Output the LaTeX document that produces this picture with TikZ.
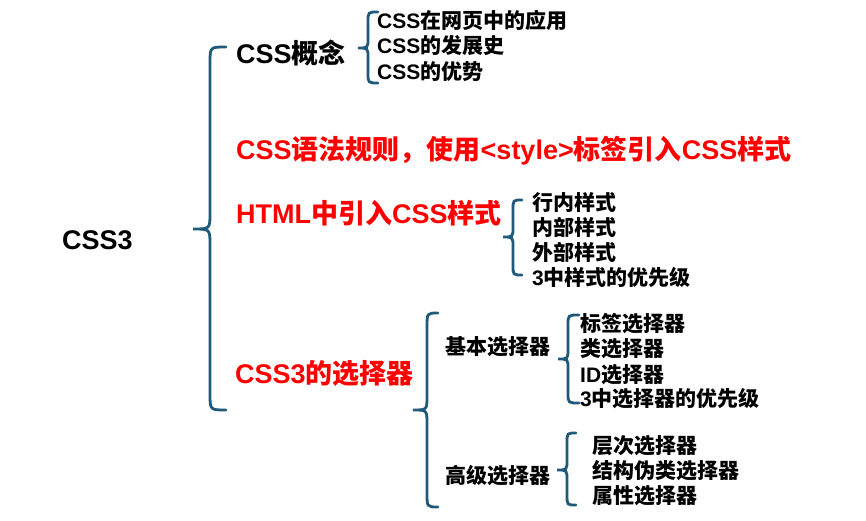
\documentclass[tikz,border=0pt]{standalone}
\usepackage{fontspec}
\setmainfont{Liberation Sans}
\newfontfamily\cjk{Noto Sans CJK SC}
\newcommand\zh[1]{{\cjk #1}}
\definecolor{bracecol}{RGB}{31,90,122}
\definecolor{hotred}{RGB}{255,0,0}
\newcommand\bracepath[7]{%
  \draw[brc] (#1,#4) .. controls (#2,#4) .. (#2,{#4+#7}) -- (#2,{#5-#7})
    .. controls (#2,#5) .. (#3,#5) .. controls (#2,#5) .. (#2,{#5+#7})
    -- (#2,{#6-#7}) .. controls (#2,#6) .. (#1,#6);}
\begin{document}
\begin{tikzpicture}[x=1pt,y=-1pt,
  lbl/.style={anchor=west,inner sep=0pt,text height=23.8pt,text depth=3.2pt,
    font=\bfseries\fontsize{27}{30}\selectfont},
  hot/.style={lbl,text=hotred},
  item/.style={anchor=west,inner sep=0pt,text height=18.5pt,text depth=2.5pt,
    font=\bfseries\fontsize{21}{24}\selectfont},
  brc/.style={draw=bracecol,line width=2.8pt,line cap=round}]
\useasboundingbox[fill=white] (0,0) rectangle (866,521);

% braces
\bracepath{226}{210}{193}{47}{229}{410}{16}
\bracepath{378}{368}{358}{12}{48}{83}{10}
\bracepath{522}{513}{503}{200}{237}{275}{10}
\bracepath{438}{427}{413}{313}{410}{507}{14}
\bracepath{579}{568}{558}{315}{359}{403}{10}
\bracepath{576}{567}{557}{433}{470}{505}{10}

% root
\node[lbl] (root) at (62,239) {CSS3};

% concept
\node[lbl] (concept) at (236,53) {CSS\zh{概念}};
\node[item] (c1) at (377,21) {CSS\zh{在网页中的应用}};
\node[item] (c2) at (377,46) {CSS\zh{的发展史}};
\node[item] (c3) at (377,72) {CSS\zh{的优势}};

% syntax
\node[hot] (syntax) at (236,149) {CSS\zh{语法规则，使用}<style>\zh{标签引入}CSS\zh{样式}};

% html
\node[hot] (html) at (236,213) {HTML\zh{中引入}CSS\zh{样式}};
\node[item] (h1) at (532,203) {\zh{行内样式}};
\node[item] (h2) at (532,228) {\zh{内部样式}};
\node[item] (h3) at (532,252) {\zh{外部样式}};
\node[item] (h4) at (532,277) {3\zh{中样式的优先级}};

% selectors
\node[hot] (sel) at (235,373) {CSS3\zh{的选择器}};
\node[item] (basic) at (445,346) {\zh{基本选择器}};
\node[item] (adv) at (445,475) {\zh{高级选择器}};
\node[item] (b1) at (580,323) {\zh{标签选择器}};
\node[item] (b2) at (580,348) {\zh{类选择器}};
\node[item] (b3) at (580,374) {ID\zh{选择器}};
\node[item] (b4) at (580,398) {3\zh{中选择器的优先级}};
\node[item] (a1) at (592,445) {\zh{层次选择器}};
\node[item] (a2) at (592,470) {\zh{结构伪类选择器}};
\node[item] (a3) at (592,495) {\zh{属性选择器}};
\end{tikzpicture}
\end{document}
